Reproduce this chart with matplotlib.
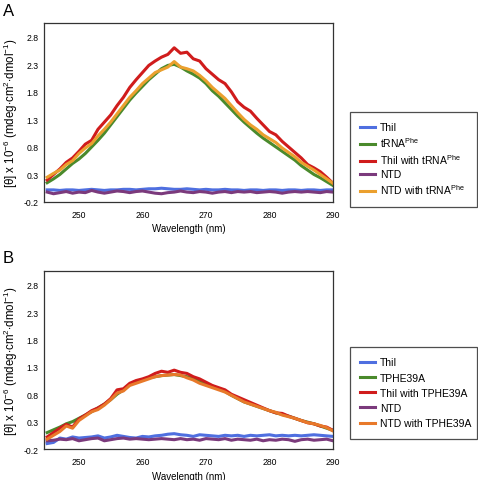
import numpy as np
import matplotlib.pyplot as plt

plt.rcParams.update({
    "font.family": "Liberation Sans",
    "mathtext.fontset": "custom",
    "mathtext.rm": "Liberation Sans",
    "mathtext.it": "Liberation Sans",
})

wl = list(range(245, 291))

# panel A
a_thil = [0.02, 0.02, 0.01, 0.02, 0.02, 0.01, 0.02, 0.03, 0.02, 0.01, 0.02, 0.02, 0.03, 0.03, 0.02, 0.03,
          0.04, 0.04, 0.05, 0.04, 0.03, 0.03, 0.04, 0.03, 0.02, 0.03, 0.02, 0.02, 0.03, 0.02, 0.02, 0.01,
          0.02, 0.02, 0.01, 0.02, 0.02, 0.01, 0.02, 0.02, 0.01, 0.02, 0.02, 0.01, 0.02, 0.02]
a_trna = [0.15, 0.22, 0.30, 0.40, 0.50, 0.58, 0.68, 0.80, 0.92, 1.05, 1.20, 1.35, 1.50, 1.65, 1.78, 1.90,
          2.02, 2.12, 2.22, 2.28, 2.30, 2.25, 2.18, 2.12, 2.05, 1.95, 1.82, 1.72, 1.60, 1.48, 1.36, 1.25,
          1.15, 1.05, 0.96, 0.88, 0.80, 0.72, 0.64, 0.56, 0.46, 0.38, 0.30, 0.24, 0.17, 0.10]
a_thil_trna = [0.20, 0.30, 0.40, 0.52, 0.60, 0.72, 0.85, 0.92, 1.12, 1.25, 1.38, 1.55, 1.70, 1.88, 2.02, 2.15,
               2.28, 2.36, 2.43, 2.48, 2.60, 2.50, 2.52, 2.40, 2.36, 2.22, 2.12, 2.02, 1.95, 1.80, 1.62, 1.52,
               1.45, 1.32, 1.20, 1.08, 1.02, 0.90, 0.80, 0.70, 0.60, 0.48, 0.42, 0.35, 0.25, 0.14]
a_ntd = [-0.02, -0.05, -0.03, -0.01, -0.04, -0.02, -0.03, 0.01, -0.02, -0.04, -0.02, 0.00, -0.01, -0.03, -0.01, 0.00,
         -0.02, -0.04, -0.05, -0.03, -0.02, 0.00, -0.02, -0.03, -0.01, -0.02, -0.04, -0.02, -0.01, -0.03, -0.01, -0.02,
         -0.01, -0.03, -0.02, -0.01, -0.02, -0.04, -0.02, -0.01, -0.02, -0.01, -0.02, -0.03, -0.01, -0.02]
a_ntd_trna = [0.25, 0.32, 0.38, 0.48, 0.55, 0.68, 0.78, 0.86, 1.00, 1.12, 1.25, 1.40, 1.55, 1.70, 1.82, 1.95,
              2.05, 2.15, 2.20, 2.25, 2.35, 2.25, 2.22, 2.18, 2.10, 2.00, 1.88, 1.78, 1.68, 1.55, 1.42, 1.30,
              1.20, 1.12, 1.02, 0.95, 0.88, 0.78, 0.70, 0.62, 0.52, 0.45, 0.38, 0.30, 0.22, 0.14]

# panel B
b_thil = [-0.10, -0.08, 0.00, -0.02, 0.02, 0.00, 0.01, 0.02, 0.04, 0.00, 0.02, 0.05, 0.03, 0.01, 0.00, 0.03,
          0.02, 0.04, 0.05, 0.07, 0.08, 0.06, 0.05, 0.03, 0.06, 0.05, 0.04, 0.03, 0.05, 0.04, 0.05, 0.03,
          0.05, 0.04, 0.05, 0.06, 0.04, 0.05, 0.04, 0.05, 0.04, 0.05, 0.06, 0.05, 0.04, 0.03]
b_tphe = [0.10, 0.15, 0.20, 0.26, 0.30, 0.36, 0.42, 0.48, 0.55, 0.62, 0.70, 0.80, 0.88, 0.98, 1.02, 1.06,
          1.10, 1.12, 1.14, 1.15, 1.16, 1.14, 1.12, 1.08, 1.04, 1.00, 0.95, 0.90, 0.85, 0.78, 0.72, 0.66,
          0.62, 0.58, 0.54, 0.50, 0.46, 0.43, 0.40, 0.36, 0.32, 0.29, 0.26, 0.22, 0.18, 0.14]
b_thil_tphe = [0.02, 0.10, 0.18, 0.25, 0.20, 0.35, 0.42, 0.50, 0.55, 0.62, 0.72, 0.88, 0.90, 1.00, 1.05, 1.08,
               1.12, 1.18, 1.22, 1.20, 1.24, 1.20, 1.18, 1.12, 1.08, 1.02, 0.96, 0.92, 0.88, 0.80, 0.75, 0.70,
               0.65, 0.60, 0.55, 0.50, 0.46, 0.45, 0.40, 0.36, 0.32, 0.28, 0.26, 0.22, 0.20, 0.14]
b_ntd = [-0.05, -0.04, -0.02, -0.03, -0.01, -0.05, -0.03, -0.01, 0.00, -0.05, -0.03, -0.01, 0.00, -0.02, -0.01, -0.02,
         -0.03, -0.02, -0.01, -0.02, -0.03, -0.01, -0.03, -0.02, -0.04, -0.01, -0.02, -0.03, -0.01, -0.04, -0.02, -0.03,
         -0.04, -0.02, -0.05, -0.03, -0.04, -0.02, -0.03, -0.06, -0.03, -0.02, -0.04, -0.03, -0.02, -0.05]
b_ntd_tphe = [-0.02, 0.05, 0.12, 0.22, 0.18, 0.32, 0.40, 0.48, 0.52, 0.60, 0.70, 0.82, 0.86, 0.96, 1.00, 1.04,
              1.08, 1.12, 1.14, 1.15, 1.16, 1.15, 1.10, 1.06, 1.00, 0.96, 0.92, 0.88, 0.84, 0.78, 0.72, 0.66,
              0.62, 0.58, 0.54, 0.50, 0.47, 0.42, 0.39, 0.36, 0.32, 0.28, 0.26, 0.23, 0.19, 0.13]

labels_a = ["ThiI", r"tRNA$^{\mathrm{Phe}}$", r"ThiI with tRNA$^{\mathrm{Phe}}$", "NTD",
            r"NTD with tRNA$^{\mathrm{Phe}}$"]
labels_b = ["ThiI", "TPHE39A", "ThiI with TPHE39A", "NTD", "NTD with TPHE39A"]

colors_a = ["#4f6fe0", "#4a8a2c", "#d01c1c", "#7b3a7c", "#eba02e"]
colors_b = ["#4f6fe0", "#4a8a2c", "#d01c1c", "#7b3a7c", "#e8792a"]

yticks = [-0.2, 0.3, 0.8, 1.3, 1.8, 2.3, 2.8]
xticks = [250, 260, 270, 280, 290]

W, H = 478, 481
fig = plt.figure(figsize=(W / 100, H / 100), dpi=100)

panels = [
    ("A", [a_thil, a_trna, a_thil_trna, a_ntd, a_ntd_trna], labels_a, colors_a, 24, 203, 113, 0.3),
    ("B", [b_thil, b_tphe, b_thil_tphe, b_ntd, b_ntd_tphe], labels_b, colors_b, 272, 450, 348, 0.5),
]

for name, series, labels, colors, top, bot, leg_top, lsp in panels:
    ax = fig.add_axes([44 / W, 1 - bot / H, (333 - 44) / W, (bot - top) / H])
    handles = []
    for ys, lab, c in zip(series, labels, colors):
        h, = ax.plot(wl, ys, color=c, lw=2.2, label=lab)
        handles.append(h)
    ax.set_xlim(244.5, 290)
    ax.set_ylim(-0.2, 3.05)
    ax.set_xticks(xticks)
    ax.set_yticks(yticks)
    ax.set_yticklabels([f"{v:.1f}" for v in yticks])
    ax.tick_params(length=0, labelsize=6.2, pad=4)
    ax.tick_params(axis="x", labelsize=6.2, pad=6)
    for s in ax.spines.values():
        s.set_color("#333333")
        s.set_linewidth(0.9)
    ax.set_xlabel("Wavelength (nm)", fontsize=7, labelpad=3)
    ax.set_ylabel(r"[θ] x 10$^{-6}$ (mdeg$\cdot$cm$^{2}$$\cdot$dmol$^{-1}$)", fontsize=8.3)
    ax.yaxis.set_label_coords(-0.083, 0.5)
    fig.text(3 / W, 1 - (top - 13) / H, name, fontsize=12, va="center", ha="left")
    leg = fig.legend(handles=handles, loc="upper left",
                     bbox_to_anchor=(350 / W, 1 - leg_top / H, 127 / W, 0),
                     fontsize=7.5, frameon=True, fancybox=False, edgecolor="#222222",
                     handlelength=1.4, handletextpad=0.5, labelspacing=lsp,
                     borderpad=1.0, borderaxespad=0, mode="expand")
    leg.get_frame().set_linewidth(0.9)

fig.savefig("out.png", dpi=100)
